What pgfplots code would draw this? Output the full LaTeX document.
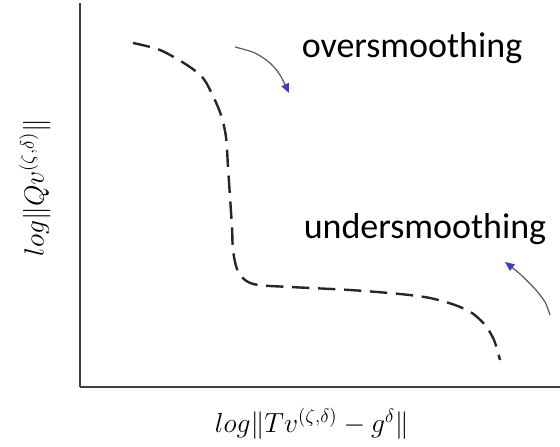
\documentclass[border=0pt]{standalone}
\usepackage{pgfplots}
\pgfplotsset{compat=1.18}
\usepackage{fontspec}
\setmainfont{Carlito}
\usetikzlibrary{arrows.meta}

\definecolor{curvecol}{HTML}{262626}
\definecolor{axiscol}{HTML}{404040}
\definecolor{arrowcol}{HTML}{5A5A5A}
\definecolor{headcol}{HTML}{3A3FC8}

\begin{document}
\begin{tikzpicture}
\begin{axis}[
  scale only axis,
  width=360pt, height=288pt,
  xmin=80, xmax=560, ymin=0, ymax=384,
  axis x line*=bottom, axis y line*=left,
  axis line style={axiscol, line width=1.3pt},
  xtick=\empty, ytick=\empty,
  clip=false,
  xlabel={$log\|Tv^{(\zeta,\delta)} - g^{\delta}\|$},
  ylabel={$log\|Qv^{(\zeta,\delta)}\|$},
  label style={font=\fontsize{22}{26}\selectfont},
  xlabel style={at={(axis description cs:0.483,-0.096)}, anchor=center},
  ylabel style={at={(axis description cs:-0.094,0.52)}, anchor=center, rotate=0},
]
% the L-curve
\addplot[curvecol, line width=1.8pt, dash pattern=on 13pt off 6.5pt, smooth, tension=0.5]
  coordinates {
   (133,344) (160,337) (187,322) (203,309) (213,291) (221,272)
   (226,250) (228,220) (230,190) (232,160) (233,137) (237,118)
   (245,107) (258,102) (290,100) (350,97) (400,93) (430,89)
   (455,82) (472,74) (485,62) (494,47) (500,27)
  };
% annotation arrows
\addplot[arrowcol, line width=0.9pt, smooth,
  -{Triangle[length=7pt, width=6pt, fill=headcol, color=headcol]}]
  coordinates {(235,340) (255,334) (270,324) (280,312) (289,294)};
\addplot[arrowcol, line width=0.9pt, smooth,
  -{Triangle[length=7pt, width=6pt, fill=headcol, color=headcol]}]
  coordinates {(550,72) (545,85) (535,98) (520,113) (505,125)};
\node[font=\fontsize{27}{32}\selectfont, anchor=base] at (axis cs:412,329) {oversmoothing};
\node[font=\fontsize{27}{32}\selectfont, anchor=base] at (axis cs:425,149) {undersmoothing};
\coordinate (bl) at (axis cs:0,-59);
\coordinate (tr) at (axis cs:560,387);
\end{axis}
\pgfresetboundingbox
\path (bl) rectangle (tr);
\end{tikzpicture}
\end{document}
